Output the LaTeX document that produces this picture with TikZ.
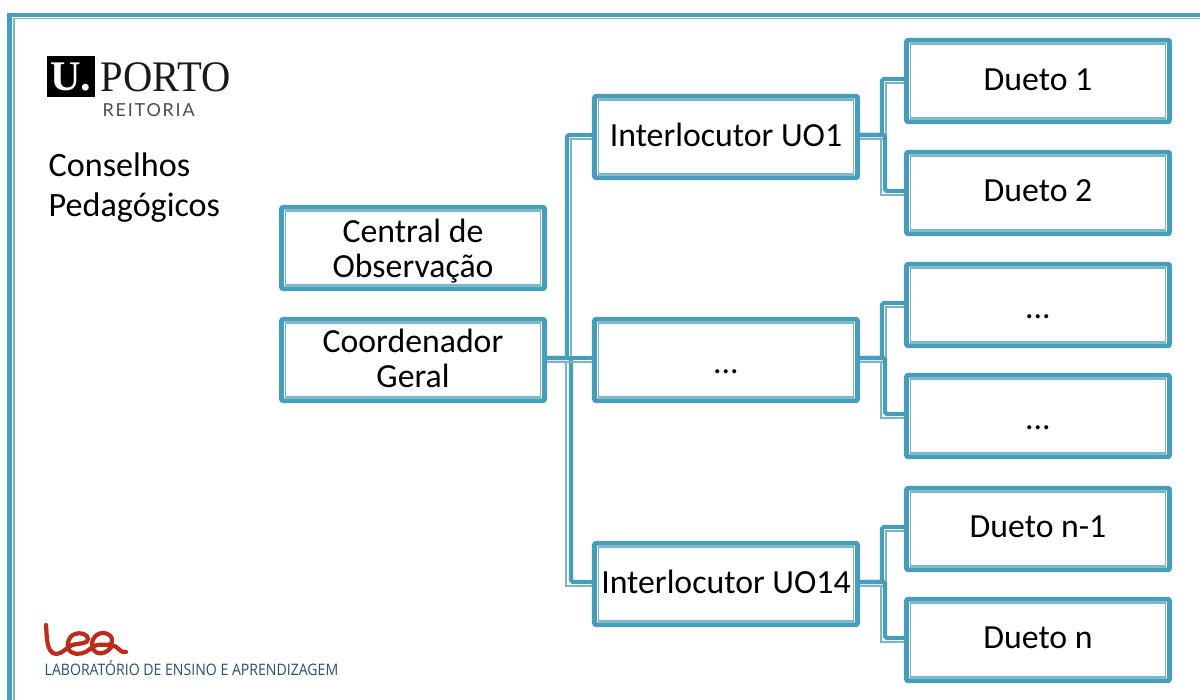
\documentclass[tikz,border=0pt]{standalone}
\usepackage{fontspec}
\setmainfont{Carlito}
\newfontfamily\logoserif{Liberation Serif}
\newfontfamily\logosans[LetterSpace=10]{Lato}
\newfontfamily\leasans{Open Sans}
\definecolor{framecol}{RGB}{72,158,186}
\definecolor{thincol}{RGB}{120,182,200}
\definecolor{leared}{RGB}{188,44,28}
\definecolor{leablue}{RGB}{38,80,108}
\tikzset{
    boxnode/.style={draw=framecol, line width=1.4pt, fill=white, rounded corners=.6pt, inner sep=0pt,
        minimum width=2.63cm, minimum height=.815cm, align=center, font=\fontsize{9.6}{10.2}\selectfont},
    lifted/.style={text depth=1.2pt},
    dotted text/.style={text height=7.5pt, text depth=0pt},
    innerline/.style={draw=thincol, line width=.45pt},
    linkthick/.style={draw=framecol, line width=1.2pt, rounded corners=.5pt},
    linkthin/.style={draw=thincol, line width=.45pt}
}
% Elbow from #1 to #2, with the run of the thick and of the thin line
\newcommand{\elbowlink}[4]{
    \draw[linkthin] ([shift={(0,2)}]#1.east) -- ++(#4,0) |- ([shift={(0,2)}]#2.west);
    \draw[linkthick] ([shift={(0,-2)}]#1.east) -- ++(#3,0) |- ([shift={(0,-2)}]#2.west);
}
\begin{document}
\begin{tikzpicture}[x=0.01cm, y=-0.01cm]
    \useasboundingbox (0,0) rectangle (1200,700);

    % Draw the outer frame
    \draw[framecol, line width=1.4pt] (1200,15) -- (9.5,15) -- (9.5,700);
    \draw[thincol, line width=.45pt] (1200,18.5) -- (14,18.5) -- (14,700);

    % Draw the boxes
    \node[boxnode] (Central) at (413,248) {\rule{0pt}{8.4pt}Central de\\Observação};
    \node[boxnode, text depth=1pt] (Coordenador) at (413,360) {Coordenador\\Geral};
    \node[boxnode, lifted] (UO_1) at (726,137) {Interlocutor UO1};
    \node[boxnode, dotted text] (UO_x) at (726,360) {...};
    \node[boxnode, lifted] (UO_14) at (726,584) {Interlocutor UO14};
    \node[boxnode, text depth=.6pt] (Dueto_1) at (1038,81) {Dueto 1};
    \node[boxnode, lifted] (Dueto_2) at (1038,193) {Dueto 2};
    \node[boxnode, dotted text] (Dueto_3) at (1038,305) {...};
    \node[boxnode, dotted text] (Dueto_4) at (1038,416) {...};
    \node[boxnode, lifted] (Dueto_5) at (1038,529) {Dueto n-1};
    \node[boxnode, lifted] (Dueto_6) at (1038,640) {Dueto n};

    % Thin line inside each box
    \foreach \name in {Central,Coordenador,UO_1,UO_x,UO_14,Dueto_1,Dueto_2,Dueto_3,Dueto_4,Dueto_5,Dueto_6} {
        \draw[innerline] ([shift={(6.5,-6.5)}]\name.south west) rectangle ([shift={(-6.5,6.5)}]\name.north east);
    }

    % Draw the connectors
    \elbowlink{Coordenador}{UO_1}{20}{24}
    \elbowlink{Coordenador}{UO_14}{24}{19}
    \draw[linkthin] ([shift={(0,2)}]Coordenador.east) -- ([shift={(0,2)}]UO_x.west);
    \draw[linkthick] ([shift={(0,-2)}]Coordenador.east) -- ([shift={(0,-2)}]UO_x.west);
    \elbowlink{UO_1}{Dueto_1}{22}{26}
    \elbowlink{UO_1}{Dueto_2}{25}{21}
    \elbowlink{UO_x}{Dueto_3}{22}{26}
    \elbowlink{UO_x}{Dueto_4}{25}{21}
    \elbowlink{UO_14}{Dueto_5}{22}{26}
    \elbowlink{UO_14}{Dueto_6}{25}{21}

    % Title
    \node[anchor=west, align=left, inner sep=0pt, font=\fontsize{9.7}{11.4}\selectfont] (Title) at (48,188) {Conselhos\\Pedagógicos};

    % University logo
    \node[fill=black, minimum width=.48cm, minimum height=.41cm, inner sep=0pt, text=white,
        font=\logoserif\bfseries\fontsize{12}{12}\selectfont] (LogoU) at (71,76.5) {U.};
    \node[anchor=west, inner sep=0pt, font=\logoserif\fontsize{12.4}{12.4}\selectfont, text=black!90] (LogoPorto) at (100,77) {\scalebox{.93}[1]{PORTO}};
    \node[anchor=west, inner sep=0pt, font=\logosans\fontsize{5.1}{5.1}\selectfont, text=black!70] (LogoReitoria) at (102,110) {REITORIA};

    % Lea logo
    \draw[leared, line width=1.2pt, line cap=round]
        (46,625) .. controls (47,636) and (46,653) .. (56,654)
        .. controls (62,654) and (66,648) .. (72,645)
        .. controls (80,643) and (88,644) .. (88,639)
        .. controls (88,634) and (80,632) .. (75,634)
        .. controls (68,636) and (65,648) .. (71,652)
        .. controls (77,656) and (86,653) .. (90,649)
        .. controls (93,645) and (99,644) .. (108,645)
        .. controls (116,643) and (112,633) .. (103,633)
        .. controls (94,633) and (90,643) .. (93,649)
        .. controls (97,656) and (107,654) .. (112,646)
        .. controls (117,644) and (120,654) .. (126,652);
    \node[anchor=west, inner sep=0pt, font=\leasans\fontsize{4.5}{4.5}\selectfont, text=leablue] (LogoLea) at (44,668) {\scalebox{.89}[1]{LABORATÓRIO DE ENSINO E APRENDIZAGEM}};
\end{tikzpicture}
\end{document}
